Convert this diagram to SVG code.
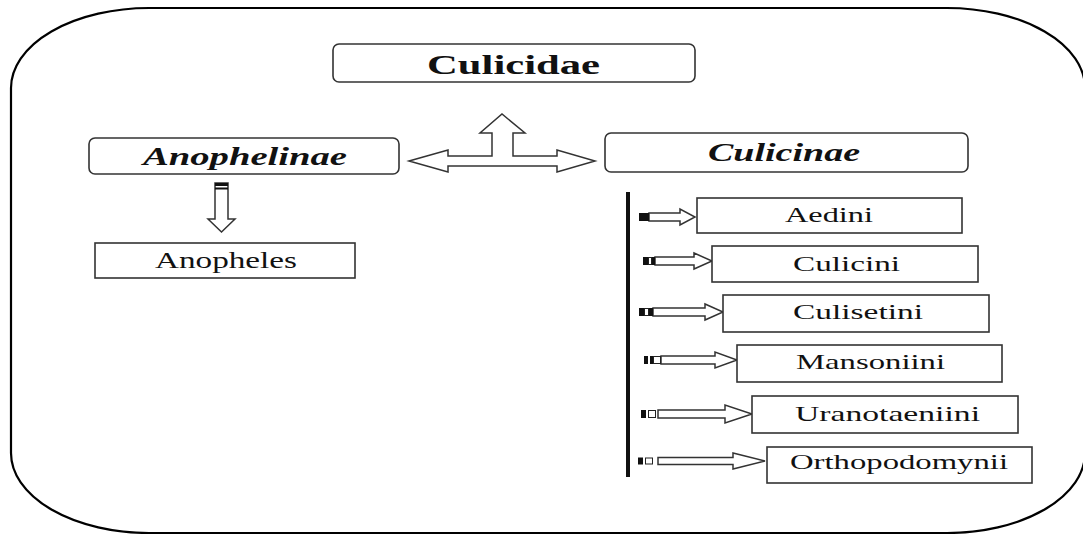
<svg xmlns="http://www.w3.org/2000/svg" width="1083" height="534" viewBox="0 0 1083 534">
<style>
.box{fill:#fff;stroke:#333;stroke-width:1.6}
.arr{fill:#fff;stroke:#333;stroke-width:1.5;stroke-linejoin:miter}
.t{font-family:"Liberation Serif","Times New Roman",serif;fill:#111}
.tb{font-family:"Liberation Serif","Times New Roman",serif;font-weight:bold;fill:#111}
.tbi{font-family:"Liberation Serif","Times New Roman",serif;font-weight:bold;font-style:italic;fill:#111}
.blk{fill:#111}
.wht{fill:#fff;stroke:#222;stroke-width:1}
</style>
<rect width="1083" height="534" fill="#fff"/>
<rect id="frame" x="11" y="8" width="1074" height="525" rx="138" ry="80" fill="none" stroke="#000" stroke-width="2.2"/>

<g id="connectors">
  <polygon class="arr" points="409,161 448,150 448,156 492,156 492,133 480,133 502,114 525,133 513,133 513,156 557,156 557,150 595,161 557,172 557,166 448,166 448,172"/>
  <g id="down-arrow">
    <polygon class="arr" points="215,183 228,183 228,219 235,219 221.5,232 208,219 215,219"/>
    <rect class="blk" x="215" y="183" width="13" height="3"/>
    <rect class="blk" x="215" y="187.5" width="13" height="2"/>
  </g>
  <rect id="vline" class="blk" x="626" y="192" width="4" height="285"/>
  <g id="a1">
    <path class="arr" d="M649,213 H680 V209 L695,217 L680,225 V221 H649 Z"/>
    <rect class="blk" x="639" y="213" width="10" height="8"/>
  </g>
  <g id="a2">
    <path class="arr" d="M655,257 H694 V253 L712,261 L694,269 V265 H655 Z"/>
    <rect class="blk" x="643" y="257" width="5" height="8"/>
    <rect class="wht" x="648.5" y="257.5" width="3" height="7"/>
    <rect class="blk" x="652" y="257" width="3" height="8"/>
  </g>
  <g id="a3">
    <path class="arr" d="M653,308 H705 V304 L723,312 L705,320 V316 H653 Z"/>
    <rect class="blk" x="639" y="308" width="5" height="8"/>
    <rect class="wht" x="644.5" y="308.5" width="4" height="7"/>
    <rect class="blk" x="649" y="308" width="4" height="8"/>
  </g>
  <g id="a4">
    <path class="arr" d="M661,356 H715 V352 L737,360 L715,368 V364 H661 Z"/>
    <rect class="blk" x="644" y="356" width="4" height="8"/>
    <rect class="blk" x="650" y="356" width="3" height="8"/>
    <rect class="wht" x="653.5" y="356.5" width="7" height="7"/>
  </g>
  <g id="a5">
    <path class="arr" d="M658,410 H725 V405 L752,414 L725,423 V418 H658 Z"/>
    <rect class="blk" x="641" y="410" width="5" height="8"/>
    <rect class="wht" x="648.5" y="410.5" width="7" height="7"/>
  </g>
  <g id="a6">
    <path class="arr" d="M658,457.5 H733 V453 L765,461 L733,469 V464.5 H658 Z"/>
    <rect class="blk" x="638" y="457.5" width="5" height="7"/>
    <rect class="wht" x="645.5" y="458" width="7" height="6"/>
  </g>
</g>

<g id="culicidae">
  <rect class="box" x="333" y="44" width="362" height="38" rx="6"/>
  <text class="tb" x="427" y="74" font-size="28" textLength="173" lengthAdjust="spacingAndGlyphs">Culicidae</text>
</g>
<g id="anophelinae">
  <rect class="box" x="89" y="138" width="310" height="36" rx="6"/>
  <text class="tbi" x="143" y="165" font-size="25" textLength="204" lengthAdjust="spacingAndGlyphs">Anophelinae</text>
</g>
<g id="culicinae">
  <rect class="box" x="605" y="133" width="363" height="39" rx="6"/>
  <text class="tbi" x="708" y="161" font-size="25" textLength="152" lengthAdjust="spacingAndGlyphs">Culicinae</text>
</g>
<g id="anopheles">
  <rect class="box" x="95" y="243" width="260" height="35"/>
  <text class="t" x="155" y="268" font-size="23" textLength="142" lengthAdjust="spacingAndGlyphs">Anopheles</text>
</g>
<g id="aedini">
  <rect class="box" x="697" y="198" width="265" height="35"/>
  <text class="t" x="785" y="222" font-size="22" textLength="88" lengthAdjust="spacingAndGlyphs">Aedini</text>
</g>
<g id="culicini">
  <rect class="box" x="712" y="246" width="266" height="36"/>
  <text class="t" x="793" y="271" font-size="22" textLength="107" lengthAdjust="spacingAndGlyphs">Culicini</text>
</g>
<g id="culisetini">
  <rect class="box" x="723" y="295" width="266" height="37"/>
  <text class="t" x="793" y="319" font-size="22" textLength="130" lengthAdjust="spacingAndGlyphs">Culisetini</text>
</g>
<g id="mansoniini">
  <rect class="box" x="737" y="345" width="265" height="37"/>
  <text class="t" x="796" y="369" font-size="22" textLength="149" lengthAdjust="spacingAndGlyphs">Mansoniini</text>
</g>
<g id="uranotaeniini">
  <rect class="box" x="752" y="396" width="266" height="37"/>
  <text class="t" x="795" y="421" font-size="22" textLength="185" lengthAdjust="spacingAndGlyphs">Uranotaeniini</text>
</g>
<g id="orthopodomynii">
  <rect class="box" x="767" y="447" width="265" height="36"/>
  <text class="t" x="790" y="469" font-size="22" textLength="218" lengthAdjust="spacingAndGlyphs">Orthopodomynii</text>
</g>
</svg>
